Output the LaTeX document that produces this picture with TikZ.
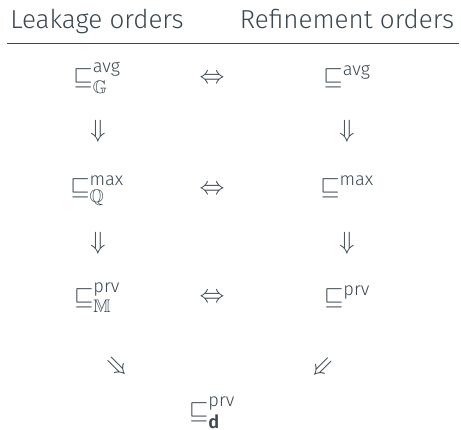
\documentclass[tikz,border=0pt]{standalone}
\usepackage{amsmath,amssymb}
\usepackage{fontspec}
\setmainfont{Fira Sans Light}[BoldFont={Fira Sans SemiBold}]
\definecolor{ink}{HTML}{3B4850}
\begin{document}
\begin{tikzpicture}[x=1pt,y=-1pt,
  every node/.style={text=ink, inner sep=0pt},
  hdr/.style={anchor=base, font=\fontsize{26}{31}\selectfont},
  cell/.style={anchor=base, font=\fontsize{26}{31}\selectfont},
  rel/.style={anchor=center, font=\fontsize{26}{31}\selectfont}]
\useasboundingbox (0,0) rectangle (461,430);

% column headers and rule
\node[hdr] (hl) at (97,29) {Leakage orders};
\node[hdr] (hr) at (347,29) {Refinement orders};
\draw[ink, line width=1pt] (7,44) -- (459,44);

% leakage orders (left column)
\node[cell] (lavg) at (97,85)  {$\sqsubseteq^{\text{avg}}_{\mathbb{G}}$};
\node[cell] (lmax) at (97,195) {$\sqsubseteq^{\text{max}}_{\mathbb{Q}}$};
\node[cell] (lprv) at (97,304.5) {$\sqsubseteq^{\text{prv}}_{\mathbb{M}}$};

% refinement orders (right column)
\node[cell] (ravg) at (347,85)  {$\sqsubseteq^{\text{avg}}$};
\node[cell] (rmax) at (347,195) {$\sqsubseteq^{\text{max}}$};
\node[cell] (rprv) at (347,304.5) {$\sqsubseteq^{\text{prv}}$};

% common lower bound
\node[cell] (dprv) at (212,419) {$\sqsubseteq^{\text{prv}}_{\text{\bfseries d}}$};

% equivalences
\node[rel] (e1) at (212,79)  {$\Leftrightarrow$};
\node[rel] (e2) at (212,190) {$\Leftrightarrow$};
\node[rel] (e3) at (212,298) {$\Leftrightarrow$};

% implications
\node[rel] (il1) at (98,131.5)  {$\Downarrow$};
\node[rel] (il2) at (98,243.5)  {$\Downarrow$};
\node[rel] (ir1) at (347,131.5) {$\Downarrow$};
\node[rel] (ir2) at (347,243.5) {$\Downarrow$};
\node[rel, rotate=45]  (dl) at (117.5,366.5) {$\Downarrow$};
\node[rel, rotate=-45] (dr) at (322.5,367.5) {$\Downarrow$};
\end{tikzpicture}
\end{document}
